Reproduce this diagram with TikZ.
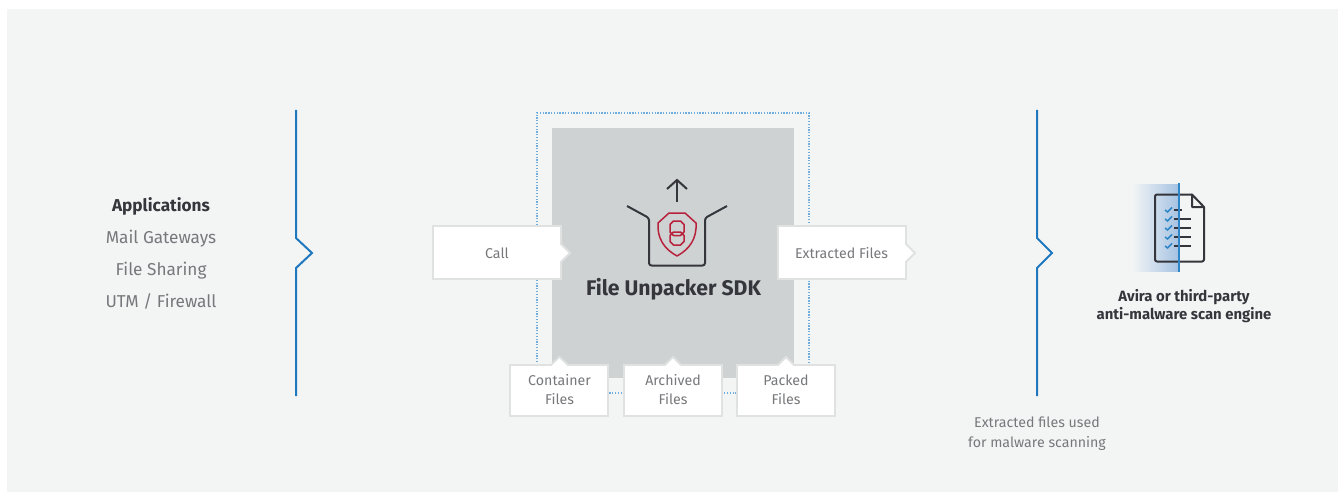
\documentclass[tikz,border=0pt]{standalone}
\usepackage{fontspec}
\setmainfont{Fira Sans}
\definecolor{bgc}{HTML}{F3F5F5}
\definecolor{sdk}{HTML}{CFD2D3}
\definecolor{blueln}{HTML}{1F78BE}
\definecolor{blueln2}{HTML}{2E86C8}
\definecolor{dotc}{HTML}{6FADDF}
\definecolor{edgec}{HTML}{E0E2E2}
\definecolor{greyt}{HTML}{77787B}
\definecolor{darkt}{HTML}{35363C}
\definecolor{redc}{HTML}{B7213B}
\definecolor{gradc}{HTML}{A5C2E2}
\definecolor{gradm}{HTML}{E2E8F0}
\tikzset{
  x=1pt,y=-1pt,
  tag/.style={draw=edgec,line width=1.8pt,fill=white,line join=miter},
  lbl/.style={text=greyt,font=\fontsize{14.2}{19}\selectfont,align=center,inner sep=0pt},
  applbl/.style={text=greyt,font=\fontsize{17.2}{21}\selectfont,inner sep=0pt,anchor=base},
  bracket/.style={draw=blueln,line width=2pt},
  icon/.style={draw=darkt,line width=2pt},
  shield/.style={draw=redc,line width=1.5pt,line join=round},
  checkm/.style={draw=blueln2,line width=1.5pt},
}
\begin{document}
\begin{tikzpicture}
\useasboundingbox (0,0) rectangle (1338,492);
\fill[white] (0,0) rectangle (1338,492);
\fill[bgc] (7,9) rectangle (1338,492);
% brackets
\draw[bracket] (296,110) -- (296,238) -- (312,253) -- (296,268) -- (296,396);
\draw[bracket] (1037,110) -- (1037,238) -- (1052,253) -- (1037,268) -- (1037,396);
% left texts
\node[text=darkt,font=\fontsize{17.2}{21}\selectfont\bfseries,inner sep=0pt,anchor=base] (apps) at (161,211) {Applications};
\node[applbl] (mail) at (161,243) {Mail Gateways};
\node[applbl] (share) at (161,275) {File Sharing};
\node[applbl] (utm) at (161,307) {UTM / Firewall};
% SDK
\draw[dotc,line width=1.3pt,dash pattern=on 1.3pt off 1.5pt] (537,393) -- (537,113) -- (809,113) -- (809,393) -- cycle;
\fill[sdk] (552,128) rectangle (794,378);
\node[text=darkt,font=\fontsize{21.2}{24}\selectfont\bfseries,inner sep=0pt,anchor=base] (sdk) at (673.5,295) {File Unpacker SDK};
% unpack icon
\draw[icon,line join=round,rounded corners=2.5pt] (627,206) -- (649,218) -- (649,265.5) -- (705,265.5) -- (705,218) -- (727,206);
\draw[icon] (677,202) -- (677,180);
\draw[icon] (667,189) -- (677,180) -- (687,189);
\draw[shield] (669,213) -- (685,213) -- (696,223) .. controls (697,238) and (690,249) .. (677,256) .. controls (664,249) and (657,238) .. (658,223) -- cycle;
\draw[shield] (673.5,221) -- (680.5,221) -- (684,224.5) -- (684,232) -- (680.5,235.5) -- (673.5,235.5) -- (670,232) -- (670,224.5) -- cycle;
\draw[shield] (673.5,232) -- (680.5,232) -- (684,235.5) -- (684,241.5) -- (680.5,245) -- (673.5,245) -- (670,241.5) -- (670,235.5) -- cycle;
% tags
\draw[tag] (433,226) -- (561,226) -- (561,244) -- (570,253) -- (561,262) -- (561,279) -- (433,279) -- cycle;
\node[lbl] (call) at (497,253) {Call};
\draw[tag] (778,226) -- (906,226) -- (906,244) -- (915,253) -- (906,262) -- (906,279) -- (778,279) -- cycle;
\node[lbl] (extr) at (841.5,253) {Extracted Files};
\draw[tag] (510,365) -- (551,365) -- (559.5,357) -- (568,365) -- (608,365) -- (608,416) -- (510,416) -- cycle;
\node[lbl] (cont) at (559.5,390) {Container\\Files};
\draw[tag] (624,365) -- (665,365) -- (673,357) -- (681,365) -- (722,365) -- (722,416) -- (624,416) -- cycle;
\node[lbl] (arch) at (673,390) {Archived\\Files};
\draw[tag] (737,365) -- (778,365) -- (786,357) -- (794,365) -- (835,365) -- (835,416) -- (737,416) -- cycle;
\node[lbl] (pack) at (786,390) {Packed\\Files};
% document icon
\shade[left color=bgc,middle color=gradm,right color=gradc] (1132,184) rectangle (1179,271);
\draw[icon,line join=round,rounded corners=2pt] (1192,194.5) -- (1155,194.5) -- (1155,261.5) -- (1204,261.5) -- (1204,207);
\draw[icon,line join=round] (1192,194.5) -- (1204,207) -- (1192,207) -- cycle;
\foreach \yy/\xe in {210/1182,219/1191,228/1191,237/1191,246/1191}{
  \draw[darkt,line width=1.5pt] (1174,\yy) -- (\xe,\yy);
  \draw[checkm] (1165,\yy) -- (1167.5,\yy+2) -- (1172,\yy-2.5);
}
\draw[blueln2,line width=2.8pt] (1179,183) -- (1179,272);
\node[text=darkt,font=\fontsize{14.9}{18}\selectfont\bfseries,align=center,inner sep=0pt] (engine) at (1184,306) {Avira or third-party\\anti-malware scan engine};
\node[lbl,font=\fontsize{14.2}{20}\selectfont] (used) at (1037,434) {Extracted files used\\for malware scanning};
\end{tikzpicture}
\end{document}
